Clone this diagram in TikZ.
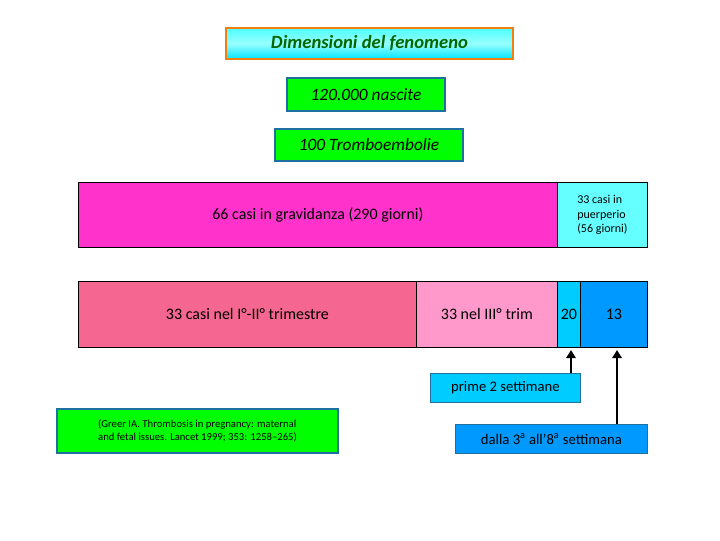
\documentclass[tikz,border=0pt]{standalone}
\usepackage{fontspec}
\setmainfont{Carlito}
\usetikzlibrary{arrows.meta}
\definecolor{mag}{HTML}{FF33CC}
\definecolor{cy}{HTML}{66FFFF}
\definecolor{rose}{HTML}{F56690}
\definecolor{pk}{HTML}{FF99CC}
\definecolor{sky}{HTML}{00CCFF}
\definecolor{blu}{HTML}{0099FF}
\definecolor{gr}{HTML}{00FF00}
\definecolor{bd}{HTML}{1F6FA0}
\definecolor{dg}{HTML}{006600}
\begin{document}
\begin{tikzpicture}[x=0.75pt,y=-0.75pt,
 seg/.style={draw=black,line width=0.6pt,anchor=north west,inner sep=0pt},
 gbox/.style={draw=bd,line width=1.5pt,fill=gr,anchor=north west,inner sep=0pt},
 arr/.style={line width=2.2pt,-{Triangle[length=6pt,width=7pt]}}]
\useasboundingbox (0,0) rectangle (720,540);
\node[anchor=north west,inner sep=0pt,draw=orange!80!brown,line width=1.5pt,top color=cyan!70,bottom color=cyan!90!blue,middle color=cyan!40,minimum width={287*0.75pt},minimum height={31*0.75pt},font=\fontsize{14}{16}\selectfont\bfseries\itshape,text=dg] (t) at (225,27) {Dimensioni del fenomeno};
\node[gbox,minimum width={158*0.75pt},minimum height={33*0.75pt},font=\fontsize{13}{15}\selectfont\itshape] (n) at (286,77) {120.000 nascite};
\node[gbox,minimum width={188*0.75pt},minimum height={32*0.75pt},font=\fontsize{13}{15}\selectfont\itshape] (tr) at (274,128) {100 Tromboembolie};
\begin{scope}[font=\fontsize{12}{14}\selectfont]
\node[seg,fill=mag,minimum width={479*0.75pt},minimum height={65*0.75pt}] (g) at (78,182) {66 casi in gravidanza (290 giorni)};
\node[seg,fill=cy,minimum width={90*0.75pt},minimum height={65*0.75pt},align=left,font=\fontsize{9}{11}\selectfont] (p) at (557,182) {33 casi in\\puerperio\\(56 giorni)};
\node[seg,fill=rose,minimum width={338*0.75pt},minimum height={66*0.75pt}] (a) at (78,281) {33 casi nel I°-II° trimestre};
\node[seg,fill=pk,minimum width={141*0.75pt},minimum height={66*0.75pt}] (b) at (416,281) {33 nel III° trim};
\node[seg,fill=sky,minimum width={23*0.75pt},minimum height={66*0.75pt}] (c) at (557,281) {20};
\node[seg,fill=blu,minimum width={67*0.75pt},minimum height={66*0.75pt}] (d) at (580,281) {13};
\node[seg,fill=sky,draw=bd,minimum width={150*0.75pt},minimum height={29*0.75pt},font=\fontsize{11}{13}\selectfont] (pr) at (430,373) {prime 2 settimane};
\node[seg,fill=blu,draw=bd,minimum width={192*0.75pt},minimum height={29*0.75pt},font=\fontsize{11}{13}\selectfont] (da) at (455,424) {dalla 3\textsuperscript{a} all’8\textsuperscript{a} settimana};
\end{scope}
\node[gbox,minimum width={281*0.75pt},minimum height={44*0.75pt},align=left,font=\fontsize{8}{10}\selectfont] (ref) at (56,408) {(Greer IA. Thrombosis in pregnancy: maternal\\and fetal issues. Lancet 1999; 353: 1258–265)};
\coordinate (c1) at (571,350);
\coordinate (c2) at (617,350);
\draw[arr] (pr.north -| c1) -- (c1);
\draw[arr] (da.north -| c2) -- (c2);
\end{tikzpicture}
\end{document}
